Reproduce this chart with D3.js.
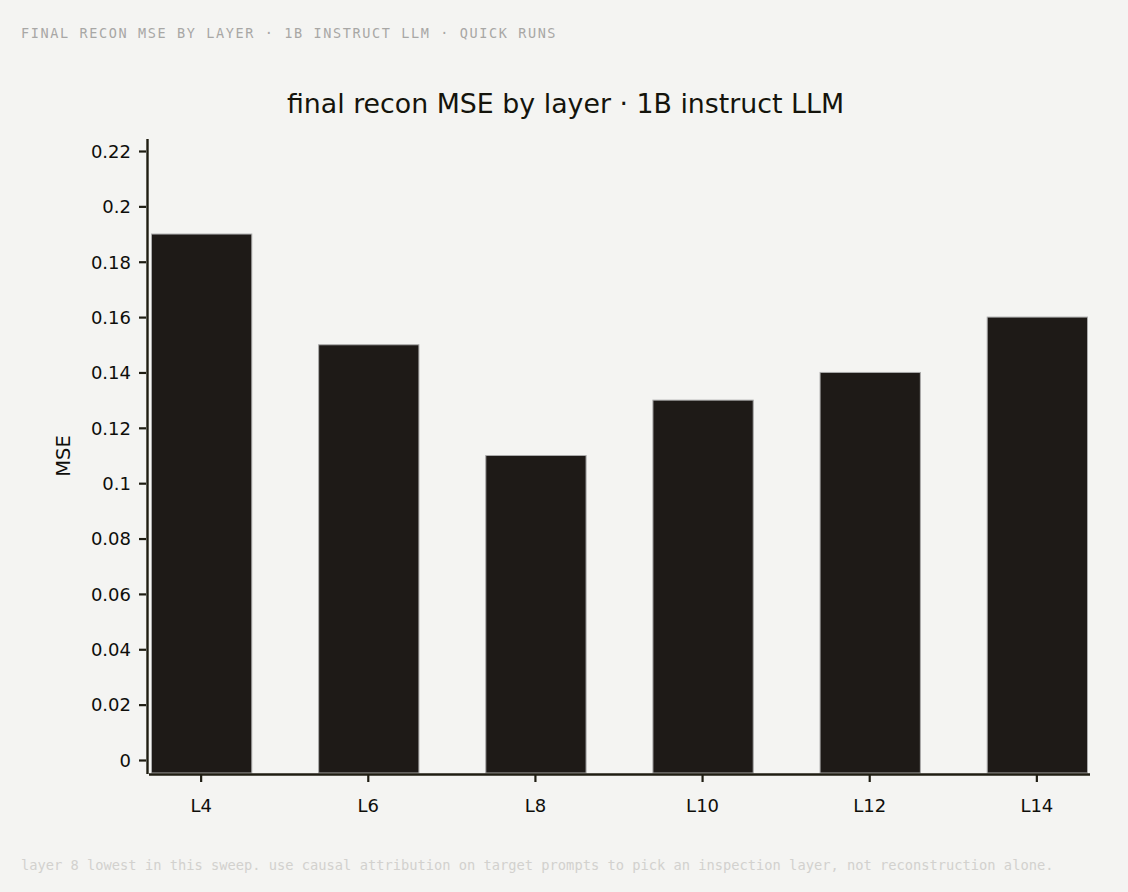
<!DOCTYPE html>
<html>
<head>
<meta charset="utf-8">
<script src="https://cdn.jsdelivr.net/npm/d3@7"></script>
<style>
html,body{margin:0;padding:0;background:#f4f4f2;}
svg{display:block;}
</style>
</head>
<body>
<svg id="chart" width="1128" height="892"></svg>
<script>
const categories = ["L4", "L6", "L8", "L10", "L12", "L14"];
const mseValues = [0.19, 0.15, 0.11, 0.13, 0.14, 0.16];
const yTickValues = [0, 0.02, 0.04, 0.06, 0.08, 0.1, 0.12, 0.14, 0.16, 0.18, 0.2, 0.22];
const headerText = "FINAL RECON MSE BY LAYER · 1B INSTRUCT LLM · QUICK RUNS";
const titleText = "final recon MSE by layer · 1B instruct LLM";
const yAxisTitle = "MSE";
const footerText = "layer 8 lowest in this sweep. use causal attribution on target prompts to pick an inspection layer, not reconstruction alone.";

const svg = d3.select("#chart");
const axisColor = "#1f1d12";
const sans = "'DejaVu Sans', sans-serif";
const mono = "'DejaVu Sans Mono', monospace";

svg.append("rect").attr("width", 1128).attr("height", 892).attr("fill", "#f4f4f2");

// header
svg.append("text").attr("x", 21).attr("y", 37.5)
  .attr("font-family", mono).attr("font-size", 13.5).attr("letter-spacing", 1.62)
  .attr("fill", "#a8a7a5").text(headerText);

// title
svg.append("text").attr("x", 565.5).attr("y", 113).attr("text-anchor", "middle")
  .attr("font-family", sans).attr("font-size", 26.8).attr("fill", "#14140c").text(titleText);

// scales
const x = d3.scaleBand().domain(categories).range([151, 1087]).paddingInner(0.4).paddingOuter(0);
const y = d3.scaleLinear().domain([0, 0.22]).range([760, 151]);
const baseY = 773;

// bars
svg.append("g").selectAll("rect").data(categories).join("rect")
  .attr("x", d => x(d) + 0.5)
  .attr("y", (d, i) => y(mseValues[i]))
  .attr("width", x.bandwidth())
  .attr("height", (d, i) => baseY - y(mseValues[i]))
  .attr("fill", "#1e1a17")
  .attr("stroke", "#aaaaaa")
  .attr("stroke-width", 1);

// y axis
const yAxis = d3.axisLeft(y).tickValues(yTickValues).tickSize(7).tickPadding(8)
  .tickFormat(d => d3.format("~g")(d));
const gy = svg.append("g").attr("transform", "translate(146,0)").call(yAxis);
gy.select(".domain").remove();
gy.selectAll(".tick line").attr("stroke", axisColor).attr("stroke-width", 2.2);
gy.selectAll(".tick text").attr("font-family", sans).attr("font-size", 18).attr("fill", "#0e0e0a").attr("dy", "0.35em");
svg.append("line").attr("x1", 147.5).attr("x2", 147.5).attr("y1", 139).attr("y2", 774)
  .attr("stroke", axisColor).attr("stroke-width", 2.4);

// x axis
const xAxis = d3.axisBottom(x).tickSize(7).tickPadding(17);
const gx = svg.append("g").attr("transform", "translate(0,775)").call(xAxis);
gx.select(".domain").remove();
gx.selectAll(".tick line").attr("stroke", axisColor).attr("stroke-width", 2.2);
gx.selectAll(".tick text").attr("font-family", sans).attr("font-size", 18).attr("fill", "#0e0e0a");
svg.append("line").attr("x1", 149).attr("x2", 1090).attr("y1", 774.5).attr("y2", 774.5)
  .attr("stroke", axisColor).attr("stroke-width", 2.4);

// y title
svg.append("text").attr("transform", "translate(70,456) rotate(-90)")
  .attr("text-anchor", "middle").attr("font-family", sans).attr("font-size", 19.5)
  .attr("fill", "#0e0e0a").text(yAxisTitle);

// footer
svg.append("text").attr("x", 21).attr("y", 870)
  .attr("font-family", mono).attr("font-size", 13.72)
  .attr("fill", "#d2d1ce").text(footerText);
</script>
</body>
</html>
